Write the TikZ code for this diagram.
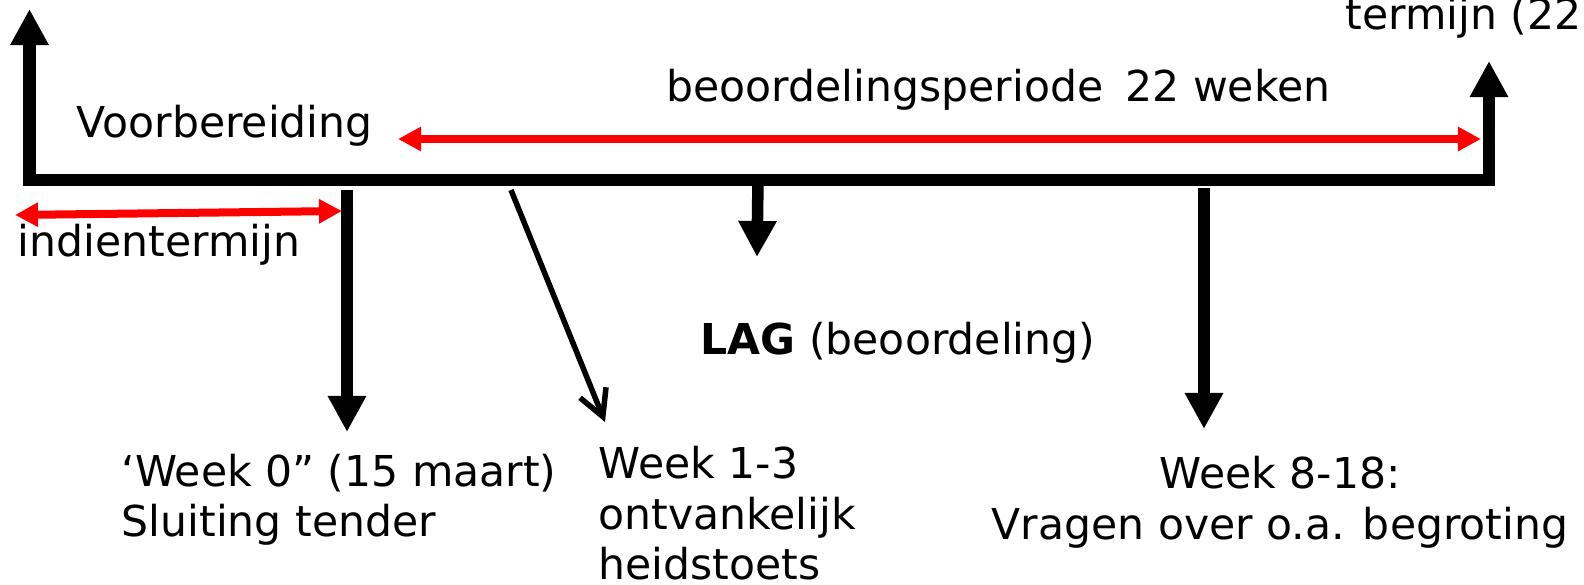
\documentclass[tikz,border=0pt]{standalone}
\usepackage{fontspec}
\setmainfont{DejaVu Sans}
\usetikzlibrary{arrows.meta}
\begin{document}
\begin{tikzpicture}[x=0.01cm,y=-0.01cm]
\tikzstyle{every node}=[inner sep=0pt,font=\fontsize{12.1}{14.5}\selectfont];
\tikzstyle{axisline}=[line width=0.12cm,line join=miter,{Triangle[width=0.36cm,length=0.36cm]}-{Triangle[width=0.36cm,length=0.36cm]}];
\tikzstyle{bigarrow}=[line width=0.115cm,-{Triangle[width=0.36cm,length=0.36cm]}];
\tikzstyle{spanarrow}=[red,line width=0.08cm,{Triangle[width=0.23cm,length=0.23cm]}-{Triangle[width=0.23cm,length=0.23cm]}];
\tikzstyle{thinarrow}=[line width=0.055cm,-{Straight Barb[length=0.26cm,width=0.28cm]}];
\useasboundingbox (0,0) rectangle (1584,585);
% time axis
\coordinate (start) at (29.5,9);
\coordinate (origin) at (29.5,180);
\coordinate (end) at (1489,180);
\coordinate (decision) at (1489,61);
\draw[axisline] (start) -- (origin) -- (end) -- (decision);
% periods
\coordinate (p1) at (398,139);
\coordinate (p2) at (1481,139);
\draw[spanarrow] (p1) -- (p2);
\coordinate (s1) at (15,215);
\coordinate (s2) at (342,211);
\draw[spanarrow] (s1) -- (s2);
% labels
\node[anchor=base west] (prep) at (76,138) {Voorbereiding};
\node[anchor=base west] (submit) at (17,257) {indientermijn};
\node[anchor=base west] (period) at (666,102) {beoordelingsperiode\hspace{0.2em} 22 weken};
\node[anchor=base west] (term) at (1345,30) {termijn (22};
\node[anchor=base west] (lag) at (700,354) {\textbf{LAG} (beoordeling)};
\node[anchor=base west,align=left] (week0) at (121,537) {‘Week 0” (15 maart)\\Sluiting tender};
\node[anchor=base west,align=left] (week1) at (598,580) {Week 1-3\\ontvankelijk\\heidstoets};
\node[anchor=base,align=center] (week8) at (1280,539) {Week 8-18:\\Vragen over o.a. begroting};
% moments
\coordinate (t0) at (347,190);
\coordinate (t0tip) at (347,432);
\draw[bigarrow] (t0) -- (t0tip);
\coordinate (t1) at (511,190);
\coordinate (t1tip) at (605,422);
\draw[thinarrow] (t1) -- (t1tip);
\coordinate (tlag) at (758,180);
\coordinate (tlagtip) at (757,257);
\draw[bigarrow] (tlag) -- (tlagtip);
\coordinate (t8) at (1204,188);
\coordinate (t8tip) at (1204,429);
\draw[bigarrow] (t8) -- (t8tip);
\end{tikzpicture}
\end{document}
